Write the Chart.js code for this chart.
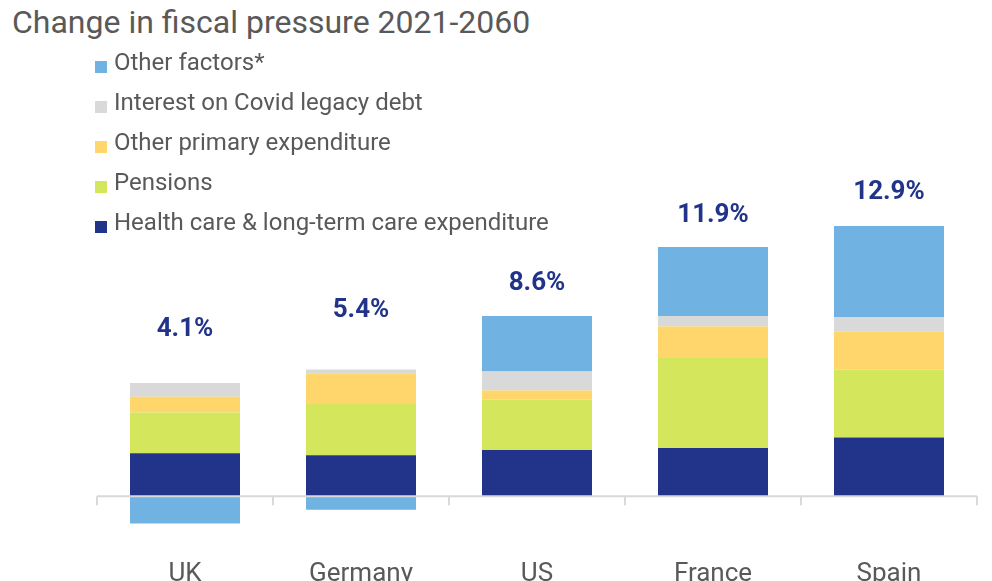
<!DOCTYPE html>
<html>
<head>
<meta charset="utf-8">
<script src="https://cdn.jsdelivr.net/npm/chart.js@4.4.1/dist/chart.umd.min.js"></script>
<style>
html,body{margin:0;padding:0;background:#fff;overflow:hidden;}
#wrap{position:relative;width:992px;height:581px;overflow:hidden;font-family:Roboto,sans-serif;color:#595959;}
#title{position:absolute;left:12px;top:2px;font-size:32px;line-height:40px;white-space:nowrap;}
#legend{position:absolute;left:95px;top:42px;font-size:24px;line-height:40px;white-space:nowrap;z-index:2;}
#legend .sw{display:inline-block;width:12px;height:12px;margin-right:7px;vertical-align:-3px;}
#box{position:absolute;left:0;top:0;width:992px;height:620px;}
</style>
</head>
<body>
<div id="wrap">
  <div id="title">Change in fiscal pressure 2021-2060</div>
  <div id="legend"></div>
  <div id="box"><canvas id="canvas"></canvas></div>
</div>
<script>
const countries=["UK","Germany","US","France","Spain"];
// percentage points of GDP, bottom of the stack first
const healthCare=[2.05,1.95,2.2,2.3,2.8];
const pensions=[1.95,2.45,2.4,4.3,3.25];
const otherPrimary=[0.75,1.45,0.45,1.5,1.8];
const covidInterest=[0.65,0.2,0.9,0.5,0.7];
const otherFactors=[-1.3,-0.65,2.65,3.3,4.35];

const seriesNames=["Health care & long-term care expenditure","Pensions","Other primary expenditure","Interest on Covid legacy debt","Other factors*"];
const seriesData=[healthCare,pensions,otherPrimary,covidInterest,otherFactors];
const colors=["#213489","#D4E75C","#FFD66B","#D9D9D9","#70B2E2"];

// how far above each stack the total sits
const labelGap=[56,61,35,34,36];

const legend=document.getElementById("legend");
for(let i=seriesNames.length-1;i>=0;i--){
    const row=document.createElement("div");
    const sw=document.createElement("span");
    sw.className="sw";
    sw.style.background=colors[i];
    row.appendChild(sw);
    row.appendChild(document.createTextNode(seriesNames[i]));
    legend.appendChild(row);
}

const axisLine={
    id:"axisLine",
    afterDatasetsDraw(chart){
        const {ctx,chartArea,scales}=chart;
        const y0=scales.y.getPixelForValue(0);
        ctx.save();
        ctx.strokeStyle="#d9d9d9";
        ctx.lineWidth=2;
        ctx.beginPath();
        ctx.moveTo(chartArea.left,y0);
        ctx.lineTo(chartArea.right,y0);
        const step=(chartArea.right-chartArea.left)/countries.length;
        for(let i=0;i<=countries.length;i++){
            const x=Math.round(chartArea.left+i*step);
            ctx.moveTo(x,y0);
            ctx.lineTo(x,y0+9);
        }
        ctx.stroke();
        ctx.font="bold 26px Roboto";
        ctx.fillStyle="#213489";
        ctx.textAlign="center";
        ctx.textBaseline="alphabetic";
        countries.forEach((c,i)=>{
            let pos=0,total=0;
            chart.data.datasets.forEach(ds=>{
                const v=ds.data[i];
                total+=v;
                if(v>0)pos+=v;
            });
            const x=scales.x.getPixelForValue(i);
            const y=scales.y.getPixelForValue(pos)-labelGap[i]+9;
            ctx.fillText(total.toFixed(1)+"%",x,y);
        });
        ctx.restore();
    }
};

new Chart(document.getElementById("canvas"),{
    type:"bar",
    data:{
        labels:countries,
        datasets:seriesData.map((d,i)=>({
            label:seriesNames[i],
            data:d,
            backgroundColor:colors[i],
            borderWidth:0,
            barPercentage:0.625,
            categoryPercentage:1
        }))
    },
    options:{
        responsive:true,
        maintainAspectRatio:false,
        animation:false,
        layout:{padding:{top:182,left:97,right:15,bottom:0}},
        plugins:{legend:{display:false},tooltip:{enabled:false}},
        scales:{
            x:{
                stacked:true,
                grid:{display:false,drawTicks:false},
                border:{display:false},
                ticks:{color:"#595959",font:{family:"Roboto",size:26},padding:0},
                afterFit(scale){scale.height=61;}
            },
            y:{
                stacked:true,
                display:false,
                min:-3,
                max:15
            }
        }
    },
    plugins:[axisLine]
});
</script>
</body>
</html>
